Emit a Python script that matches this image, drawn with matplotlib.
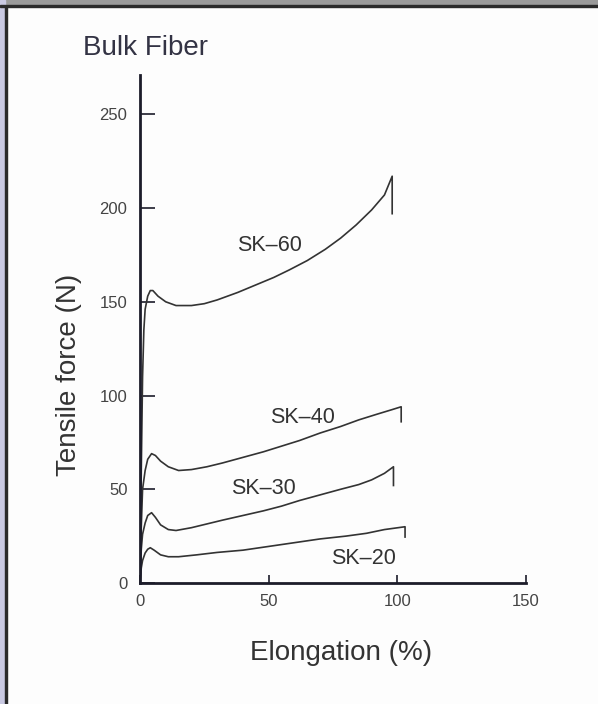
import matplotlib.pyplot as plt
from matplotlib.patches import Rectangle

plt.rcParams['font.family'] = ['Liberation Sans', 'DejaVu Sans']

sk60_x = [0, 0.5, 1, 1.5, 2, 3, 4, 5, 7, 10, 14, 20, 25, 30, 38, 45, 52, 58, 65, 72, 78, 84, 90, 95, 98, 98]
sk60_y = [0, 60, 110, 135, 146, 153, 156, 156, 153, 150, 148, 148, 149, 151, 155, 159, 163, 167, 172, 178, 184, 191, 199, 207, 217, 197]

sk40_x = [0, 0.5, 1, 2, 3, 4.5, 6, 8, 11, 15, 20, 26, 32, 40, 48, 55, 62, 70, 78, 85, 92, 98, 101.5, 101.5]
sk40_y = [0, 30, 50, 60, 66, 69, 68, 65, 62, 60, 60.5, 62, 64, 67, 70, 73, 76, 80, 83.5, 87, 90, 92.5, 94, 86]

sk30_x = [0, 0.5, 1, 2, 3, 4.5, 6, 8, 11, 14, 20, 26, 32, 40, 48, 55, 62, 70, 78, 85, 90, 95, 98.5, 98.5]
sk30_y = [0, 18, 26, 32, 36, 37.5, 35, 31, 28.5, 28, 29.5, 31.5, 33.5, 36, 38.5, 41, 44, 47, 50, 52.5, 55, 58.5, 62, 52]

sk20_x = [0, 0.5, 1, 2, 3, 4, 5.5, 8, 11, 15, 22, 30, 40, 50, 60, 70, 80, 88, 95, 103, 103]
sk20_y = [0, 8, 12, 16, 18, 18.8, 17.5, 15, 14, 14, 15, 16.3, 17.5, 19.5, 21.5, 23.5, 25, 26.5, 28.5, 30, 24.5]

labels = ['SK-60', 'SK-40', 'SK-30', 'SK-20']
label_x = [50.5, 63, 48, 86.8]
label_y = [180, 88.5, 50.5, 12.8]

xticks = [0, 50, 100, 150]
yticks = [0, 50, 100, 150, 200, 250]

fig = plt.figure(figsize=(5.98, 7.04), dpi=100)
fig.patch.set_facecolor('#fdfdfd')

# scan frame: grey strip on top, lavender strip on the left
fig.patches.append(Rectangle((0, 0.9915), 1, 0.0085, transform=fig.transFigure, color='#9a9a9a', zorder=0))
fig.patches.append(Rectangle((0, 0.9905), 1, 0.0025, transform=fig.transFigure, color='#2a2a2a', zorder=1))
fig.patches.append(Rectangle((0, 0), 0.008, 1, transform=fig.transFigure, color='#c9c9e2', zorder=0))
fig.patches.append(Rectangle((0.008, 0), 0.004, 0.991, transform=fig.transFigure, color='#2a2a2a', zorder=1))

ax = fig.add_axes([0.2341, 0.1719, 0.6455, 0.7216])
ax.set_facecolor('none')

ink = '#333333'
for xs, ys in [(sk60_x, sk60_y), (sk40_x, sk40_y), (sk30_x, sk30_y), (sk20_x, sk20_y)]:
    ax.plot(xs, ys, color=ink, lw=1.2, solid_joinstyle='round')

for t, x, y in zip(labels, label_x, label_y):
    ax.text(x, y, t.replace('-', '\u2013'), ha='center', va='center', fontsize=15.5, color='#333333')

ax.set_xlim(0, 150)
ax.set_ylim(0, 271)
ax.set_xticks(xticks)
ax.set_yticks(yticks)

for s in ['top', 'right']:
    ax.spines[s].set_visible(False)
for s in ['left', 'bottom']:
    ax.spines[s].set_linewidth(2)
    ax.spines[s].set_color('#1c1c2a')

ax.tick_params(axis='y', direction='in', length=11, width=1.2, pad=9, labelsize=12, colors='#1c1c2a', labelcolor='#444444')
ax.tick_params(axis='x', direction='in', length=6, width=1.2, pad=8, labelsize=12, colors='#1c1c2a', labelcolor='#444444')

ax.set_xlabel('Elongation (%)', fontsize=20, color='#333333', va='center')
ax.xaxis.set_label_coords(0.521, -0.138)
ax.set_ylabel('Tensile force (N)', fontsize=20, color='#333333', va='center')
ax.yaxis.set_label_coords(-0.183, 0.41)

fig.text(0.139, 0.922, 'Bulk Fiber', fontsize=20, color='#333344', va='baseline')

fig.savefig('out.png', dpi=100, facecolor=fig.get_facecolor())
